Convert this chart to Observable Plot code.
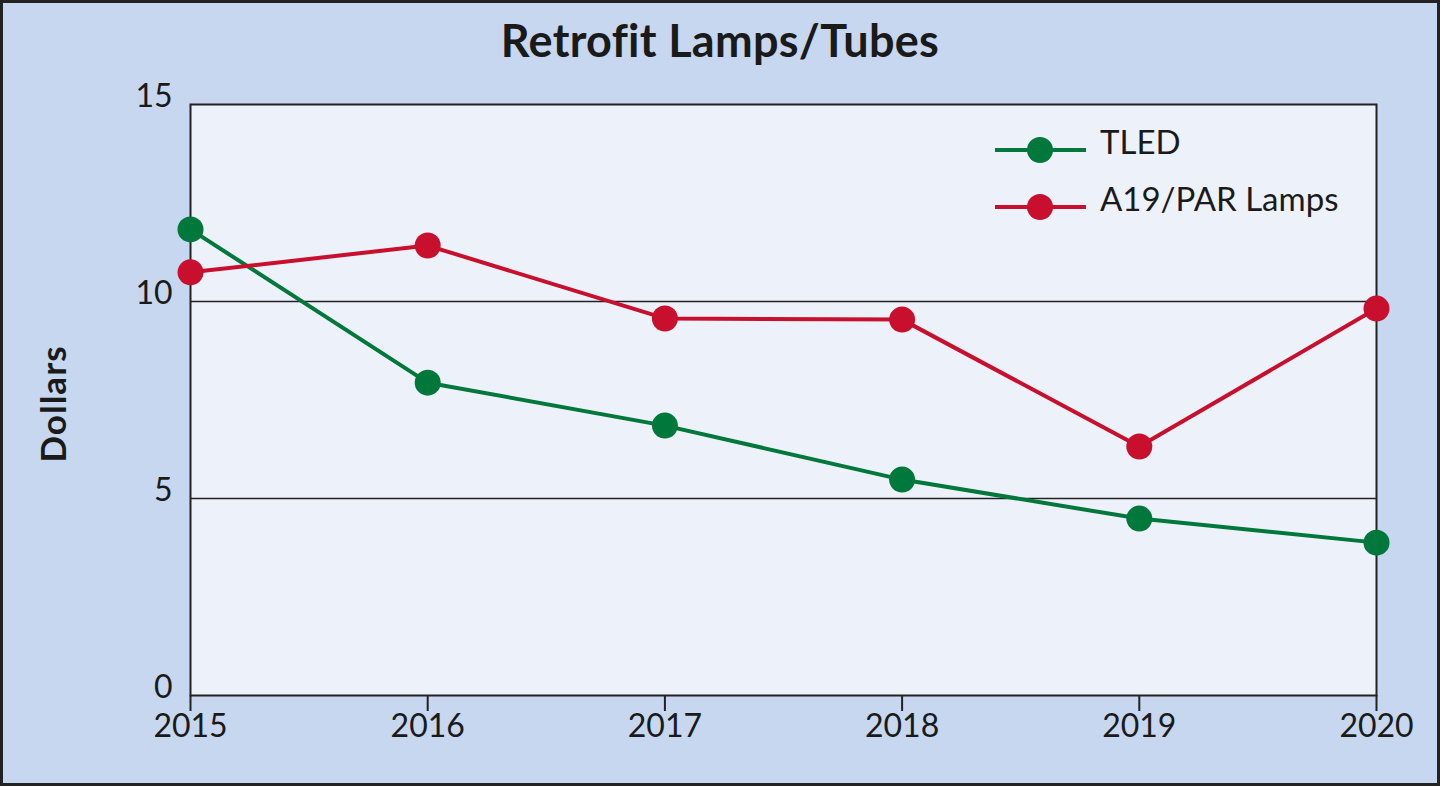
<!DOCTYPE html>
<html><head><meta charset="utf-8">
<script src="https://cdn.jsdelivr.net/npm/d3@7"></script>
<script src="https://cdn.jsdelivr.net/npm/@observablehq/plot@0.6"></script>
<style>
html,body{margin:0;padding:0;background:#c6d7ef;}
#wrap{position:relative;box-sizing:border-box;width:1440px;height:786px;border:3px solid #222;background:#c6d7ef;font-family:Lato,sans-serif;overflow:hidden;color:#1a1a1a}
#title{height:77px;line-height:74px;text-align:center;font-weight:700;font-size:45px;letter-spacing:0.3px}
#ylabel{position:absolute;left:49px;top:401px;transform:translate(-50%,-50%) rotate(-90deg);font-weight:700;font-size:35px;letter-spacing:1px;white-space:nowrap}
#legend{position:absolute;left:989px;top:118px}
.row{display:flex;align-items:center;height:57px;font-size:33px}
.row svg{margin-right:12px}
.row span{position:relative;top:-9px}
#chart svg{display:block}
</style>
</head><body>
<div id="wrap">
  <div id="title">Retrofit Lamps/Tubes</div>
  <div id="chart"></div>
  <div id="ylabel">Dollars</div>
  <div id="legend"></div>
</div>
<script>
const years = [2015, 2016, 2017, 2018, 2019, 2020];
const seriesNames = ["TLED", "A19/PAR Lamps"];
const seriesColors = ["#00773b", "#c8102e"];
const tled = [11.83, 7.94, 6.85, 5.48, 4.49, 3.88];
const a19 = [10.74, 11.42, 9.57, 9.54, 6.32, 9.82];
const yTicks = [0, 5, 10, 15];
const gridValues = [5, 10];

const data = [
  ...years.map((year, i) => ({year, value: tled[i], series: seriesNames[0]})),
  ...years.map((year, i) => ({year, value: a19[i], series: seriesNames[1]}))
];

const chart = Plot.plot({
  width: 1434,
  height: 703,
  marginLeft: 187,
  marginRight: 61,
  marginTop: 24,
  marginBottom: 88,
  style: {fontFamily: "Lato, sans-serif", fontSize: "32px", background: "transparent", color: "#1a1a1a", overflow: "visible"},
  x: {domain: [2015, 2020]},
  y: {domain: [0, 15]},
  color: {domain: seriesNames, range: seriesColors},
  marks: [
    Plot.frame({fill: "#edf2fa"}),
    Plot.ruleY(gridValues, {stroke: "#222", strokeWidth: 1.6}),
    Plot.frame({stroke: "#222", strokeWidth: 2}),
    Plot.axisX({ticks: years, tickFormat: "d", tickSize: 16, tickPadding: 3, label: null, stroke: "#222", strokeWidth: 2, fontSize: 32}),
    Plot.axisY({ticks: yTicks, tickSize: 0, tickPadding: 18, dy: -8, label: null, fontSize: 32}),
    Plot.line(data, {x: "year", y: "value", stroke: "series", z: "series", strokeWidth: 4}),
    Plot.dot(data, {x: "year", y: "value", fill: "series", r: 13})
  ]
});
document.getElementById("chart").appendChild(chart);

const legend = document.getElementById("legend");
seriesNames.forEach((name, i) => {
  const row = document.createElement("div");
  row.className = "row";
  row.innerHTML = `<svg width="96" height="30"><line x1="3" x2="94" y1="15" y2="15" stroke="${seriesColors[i]}" stroke-width="4"/><circle cx="48" cy="15" r="13" fill="${seriesColors[i]}"/></svg><span>${name}</span>`;
  legend.appendChild(row);
});
</script>
</body></html>
